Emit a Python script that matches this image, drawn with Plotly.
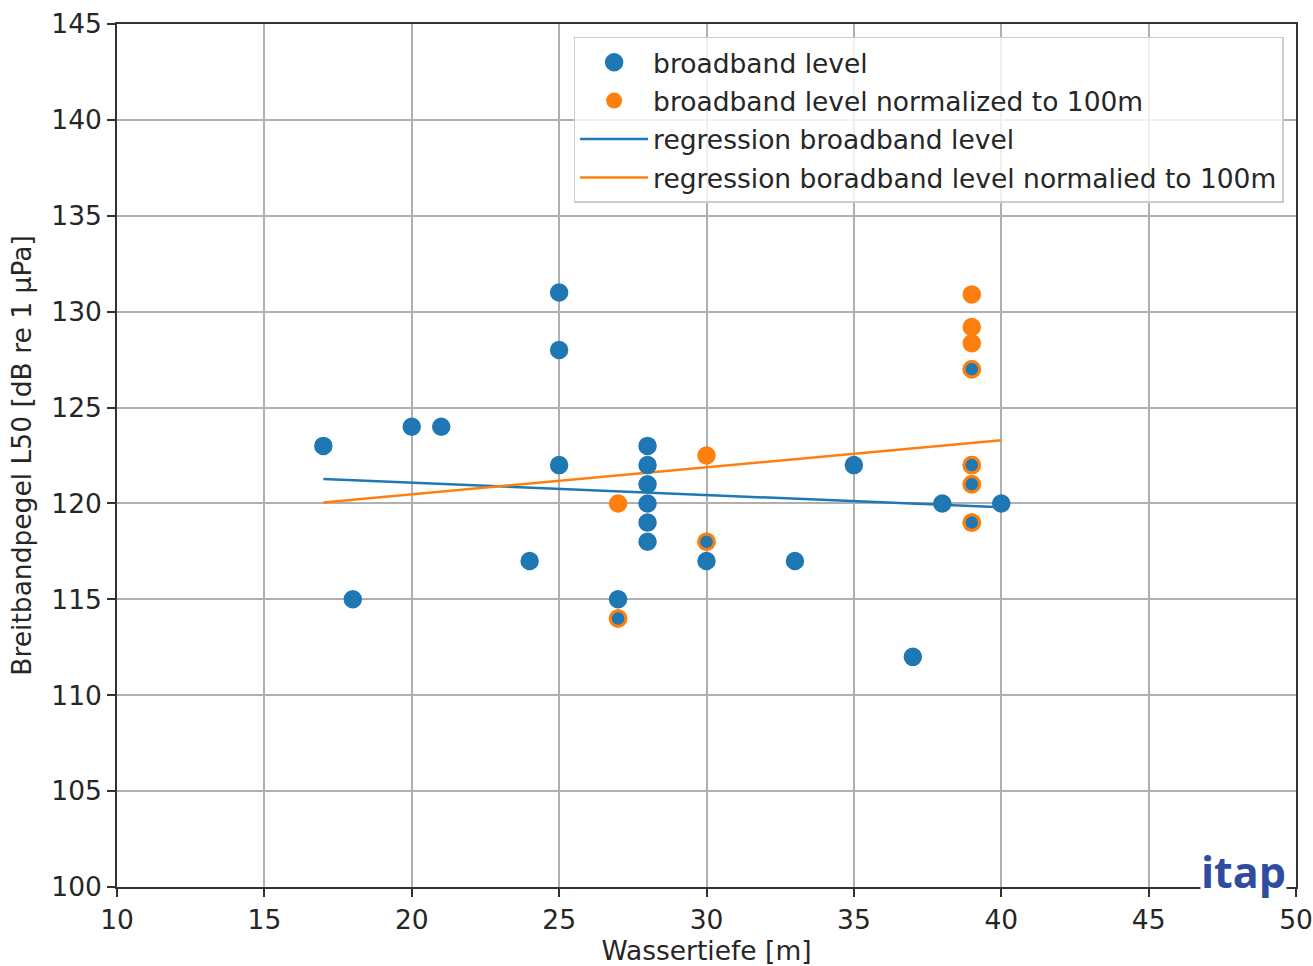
import plotly.graph_objects as go

# ---- data ----
depth_bb = [17, 18, 20, 21, 24, 25, 25, 25, 27, 27, 28, 28, 28, 28, 28, 28,
            30, 30, 33, 35, 37, 38, 39, 39, 39, 39, 40]
level_bb = [123, 115, 124, 124, 117, 131, 128, 122, 115, 114, 123, 122, 121, 120, 119, 118,
            118, 117, 117, 122, 112, 120, 127, 122, 121, 119, 120]
depth_norm = [27, 27, 30, 30, 39, 39, 39, 39, 39, 39, 39]
level_norm = [120, 114, 122.5, 118, 130.9, 129.2, 128.35, 127, 122, 121, 119]
reg_x = [17, 40]
reg_bb = [121.27, 119.8]
reg_norm = [120.05, 123.3]

x_ticks = [10, 15, 20, 25, 30, 35, 40, 45, 50]
y_ticks = [100, 105, 110, 115, 120, 125, 130, 135, 140, 145]

BLUE = "#1f77b4"
ORANGE = "#ff7f0e"
FONT = "DejaVu Sans"
FS = 26.5

norm_pairs = set(zip(depth_norm, level_norm))
blue_line_colors = [ORANGE if (x, y) in norm_pairs else BLUE for x, y in zip(depth_bb, level_bb)]

fig = go.Figure()
fig.add_trace(go.Scatter(x=reg_x, y=reg_bb, mode="lines", name="regression broadband level",
                         line=dict(color=BLUE, width=2.5), legendrank=3, legendgroup="c"))
fig.add_trace(go.Scatter(x=reg_x, y=reg_norm, mode="lines",
                         name="regression boradband level normalied to 100m",
                         line=dict(color=ORANGE, width=2.5), legendrank=4, legendgroup="d"))
fig.add_trace(go.Scatter(x=depth_norm, y=level_norm, mode="markers",
                         name="broadband level normalized to 100m",
                         marker=dict(color=ORANGE, size=18.5, line=dict(width=0)),
                         legendrank=2, legendgroup="b"))
fig.add_trace(go.Scatter(x=depth_bb, y=level_bb, mode="markers", name="broadband level",
                         marker=dict(color=BLUE, size=15.5,
                                     line=dict(width=3, color=blue_line_colors)),
                         legendrank=1, legendgroup="a"))

axis_common = dict(
    showgrid=True, gridcolor="#b0b0b0", gridwidth=1.5,
    showline=True, linecolor="#333333", linewidth=1.5, mirror=True,
    ticks="outside", ticklen=8, tickwidth=1.5, tickcolor="#333333",
    tickfont=dict(family=FONT, size=FS, color="#262626"),
    zeroline=False, automargin=False,
)

fig.update_xaxes(range=[10, 50], tickvals=x_ticks, ticktext=[str(v) for v in x_ticks],
                 title=dict(text="Wassertiefe [m]", font=dict(family=FONT, size=FS, color="#262626"),
                            standoff=17),
                 **axis_common)
fig.update_yaxes(range=[100, 145], tickvals=y_ticks, ticktext=[str(v) for v in y_ticks],
                 title=dict(text="Breitbandpegel L50 [dB re 1 µPa]",
                            font=dict(family=FONT, size=FS, color="#262626"), standoff=12),
                 **axis_common)

fig.update_layout(
    width=1313, height=966,
    margin=dict(l=117, r=17, t=24, b=79, autoexpand=False),
    paper_bgcolor="white", plot_bgcolor="white",
    font=dict(family=FONT, size=FS, color="#262626"),
    legend=dict(x=0.9895, y=0.985, xanchor="right", yanchor="top",
                bgcolor="rgba(255,255,255,0.8)", bordercolor="#cccccc", borderwidth=1.5,
                font=dict(family=FONT, size=FS, color="#262626"),
                itemwidth=68, tracegroupgap=1, traceorder="grouped"),
    showlegend=True,
    annotations=[dict(text="<b>itap</b>", xref="paper", yref="paper", x=0.9555, y=0.018,
                      xanchor="center", yanchor="middle", showarrow=False,
                      font=dict(family="Open Sans", size=43, color="#2e4d9f"),
                      bgcolor="white", borderpad=0)],
)

fig.write_html("out.html")
